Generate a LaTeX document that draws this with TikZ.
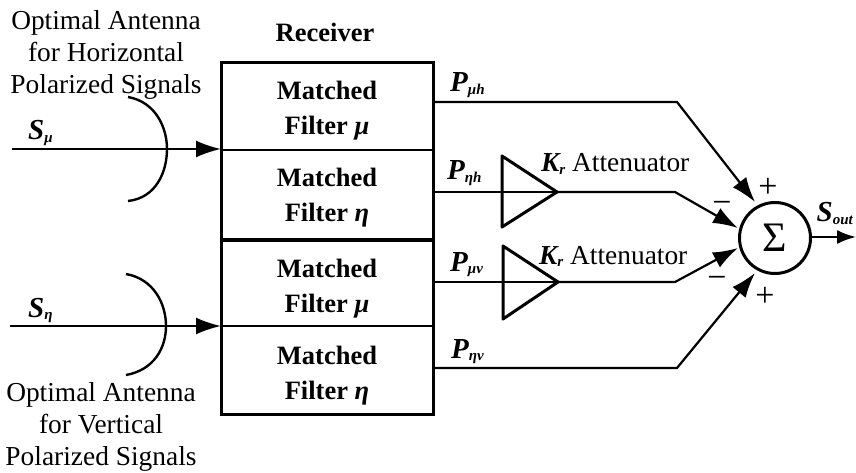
\documentclass[tikz,border=0pt]{standalone}
\usepackage{fontspec}
\setmainfont{Liberation Serif}
\usetikzlibrary{arrows.meta,calc}
\tikzset{
  lbl/.style={inner sep=0pt,align=center,font=\fontsize{27.4}{32}\selectfont},
  blbl/.style={inner sep=0pt,align=center,font=\fontsize{26.5}{30}\selectfont\bfseries},
  sym/.style={inner sep=0pt,anchor=base west,font=\fontsize{29}{30}\selectfont\bfseries\itshape},
  sgn/.style={inner sep=0pt,font=\fontsize{34}{34}\selectfont},
  wire/.style={line width=2.2pt,line join=miter},
  arrowwire/.style={wire,-{Latex[length=25pt,width=17pt]}},
  shortarrow/.style={wire,-{Latex[length=19pt,width=14pt]}},
  heavy/.style={line width=3pt},
  amp/.style={line width=3pt,line join=round}
}
\newcommand{\subsym}[2]{#1\raisebox{-0.1em}{\fontsize{15}{16}\selectfont #2}}
\begin{document}
\begin{tikzpicture}[x=1pt,y=-1pt]
\useasboundingbox[fill=white] (0,0) rectangle (856,473);
% receiver
\node[blbl] (rcv) at (325,32) {Receiver};
\coordinate (bTL) at (221,63);
\coordinate (bBR) at (433,414);
\draw[heavy] (bTL) rectangle (bBR);
\draw[wire] (221,150) -- (433,150);
\draw[line width=3.6pt] (221,240) -- (433,240);
\draw[wire] (221,326) -- (433,326);
\foreach \n/\y/\g in {a/90/μ,b/177/η,c/268/μ,d/355/η}{
  \node[blbl] (m\n) at (327,\y) {Matched};
  \node[blbl] (f\n) at (327,\y+38) {Filter \textit{\g}};
}
% antennas
\node[lbl] (top) at (106,54.5) {Optimal Antenna\\for Horizontal\\Polarized Signals};
\node[lbl] (bot) at (101,427) {Optimal Antenna\\for Vertical\\Polarized Signals};
\coordinate (a1s) at (128,97); \coordinate (a1e) at (128,201);
\coordinate (a2s) at (126,274); \coordinate (a2e) at (126,375);
\draw[line width=2.4pt] (a1s) .. controls (156,102) and (167,128) .. (167,149) .. controls (167,172) and (156,198) .. (a1e);
\draw[line width=2.4pt] (a2s) .. controls (154,279) and (166,304) .. (166,326) .. controls (166,348) and (154,370) .. (a2e);
\coordinate (s1) at (12,149); \coordinate (s1t) at (221,149);
\coordinate (s2) at (10,326); \coordinate (s2t) at (221,326);
\draw[arrowwire] (s1) -- (s1t);
\draw[arrowwire] (s2) -- (s2t);
\node[sym] (su) at (28,140) {\subsym{S}{μ}};
\node[sym] (sn) at (28,317) {\subsym{S}{η}};
% sum
\node[circle,draw,line width=3pt,minimum size=71pt,inner sep=0pt] (sum) at (775,238) {\fontsize{42}{42}\selectfont Σ};
% attenuators
\coordinate (t1a) at (502,156); \coordinate (t1b) at (502,227); \coordinate (t1c) at (557,192);
\coordinate (t2a) at (503,246); \coordinate (t2b) at (503,319); \coordinate (t2c) at (558,282);
\draw[amp] (t1a) -- (t1c) -- (t1b) -- cycle;
\draw[amp] (t2a) -- (t2c) -- (t2b) -- cycle;
% wires
\coordinate (o1) at (433,102); \coordinate (k1) at (677,102); \coordinate (e1) at (755,202);
\coordinate (o2) at (433,192); \coordinate (k2) at (675,192); \coordinate (e2) at (738,228);
\coordinate (o3) at (433,282); \coordinate (k3) at (675,282); \coordinate (e3) at (738,248);
\coordinate (o4) at (433,368); \coordinate (k4) at (677,368); \coordinate (e4) at (755,273);
\coordinate (out) at (856,237);
\draw[arrowwire] (o1) -- (k1) -- (e1);
\draw[wire] (o2) -- (t1c);
\draw[arrowwire] (t1c) -- (k2) -- (e2);
\draw[wire] (o3) -- (t2c);
\draw[arrowwire] (t2c) -- (k3) -- (e3);
\draw[arrowwire] (o4) -- (k4) -- (e4);
\draw[shortarrow] (sum.east |- out) -- (out);
% labels
\node[sym] (p1) at (450,92) {\subsym{P}{μh}};
\node[sym] (p2) at (447,180) {\subsym{P}{ηh}};
\node[sym] (p3) at (450,271) {\subsym{P}{μv}};
\node[sym] (p4) at (451,358) {\subsym{P}{ηv}};
\node[sym,anchor=base east] (so) at (853,222) {\subsym{S}{out}};
\node[lbl,anchor=base west] (k1l) at (541,172) {\textbf{\textit{\subsym{K}{r}}} Attenuator};
\node[lbl,anchor=base west] (k2l) at (539,264) {\textbf{\textit{\subsym{K}{r}}} Attenuator};
\node[sgn] (pl1) at (768,188) {+};
\node[sgn] (mi1) at (722,207) {−};
\node[sgn] (mi2) at (717,282) {−};
\node[sgn] (pl2) at (765,297) {+};
\end{tikzpicture}
\end{document}
